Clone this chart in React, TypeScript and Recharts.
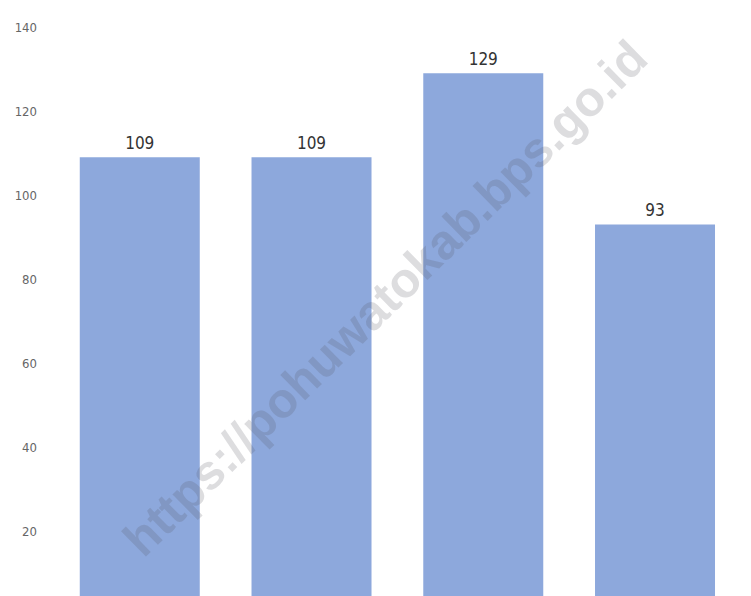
import React from "react";
import { BarChart, Bar, XAxis, YAxis, LabelList } from "recharts";

const categories = ["A", "B", "C", "D"];
const values = [109, 109, 129, 93];
const yTicks = [20, 40, 60, 80, 100, 120, 140];

const data = categories.map((name, i) => ({ name, value: values[i] }));

const tickFont = "'DejaVu Sans Condensed', 'Liberation Sans Narrow', sans-serif";

const App: React.FC = () => {
  return (
    <div
      style={{
        position: "fixed",
        left: 0,
        top: 0,
        width: 751,
        height: 596,
        overflow: "hidden",
        background: "#ffffff",
      }}
    >
      <BarChart
        width={751}
        height={640}
        data={data}
        margin={{ top: 27, right: 10, bottom: 25, left: 0 }}
        barCategoryGap="15%"
      >
        <XAxis dataKey="name" hide />
        <YAxis
          width={54}
          domain={[0, 140]}
          ticks={yTicks}
          axisLine={false}
          tickLine={false}
          tickSize={0}
          tickMargin={17}
          tick={{ fill: "#666666", fontSize: 13, fontFamily: tickFont, fontStretch: "condensed" }}
        />
        <Bar dataKey="value" fill="#8da8dc" isAnimationActive={false}>
          <LabelList
            dataKey="value"
            position="top"
            offset={8}
            style={{ fill: "#333333", fontSize: 17, fontFamily: tickFont, fontStretch: "condensed" }}
          />
        </Bar>
      </BarChart>
      <div
        style={{
          position: "absolute",
          left: 385,
          top: 298,
          transform: "translate(-50%, -50%) rotate(-44.5deg)",
          whiteSpace: "nowrap",
          fontFamily: "'Liberation Sans', Arial, sans-serif",
          fontWeight: "bold",
          fontSize: 49,
          color: "rgba(85, 85, 95, 0.2)",
          pointerEvents: "none",
        }}
      >
        https://pohuwatokab.bps.go.id
      </div>
    </div>
  );
};

export default App;
